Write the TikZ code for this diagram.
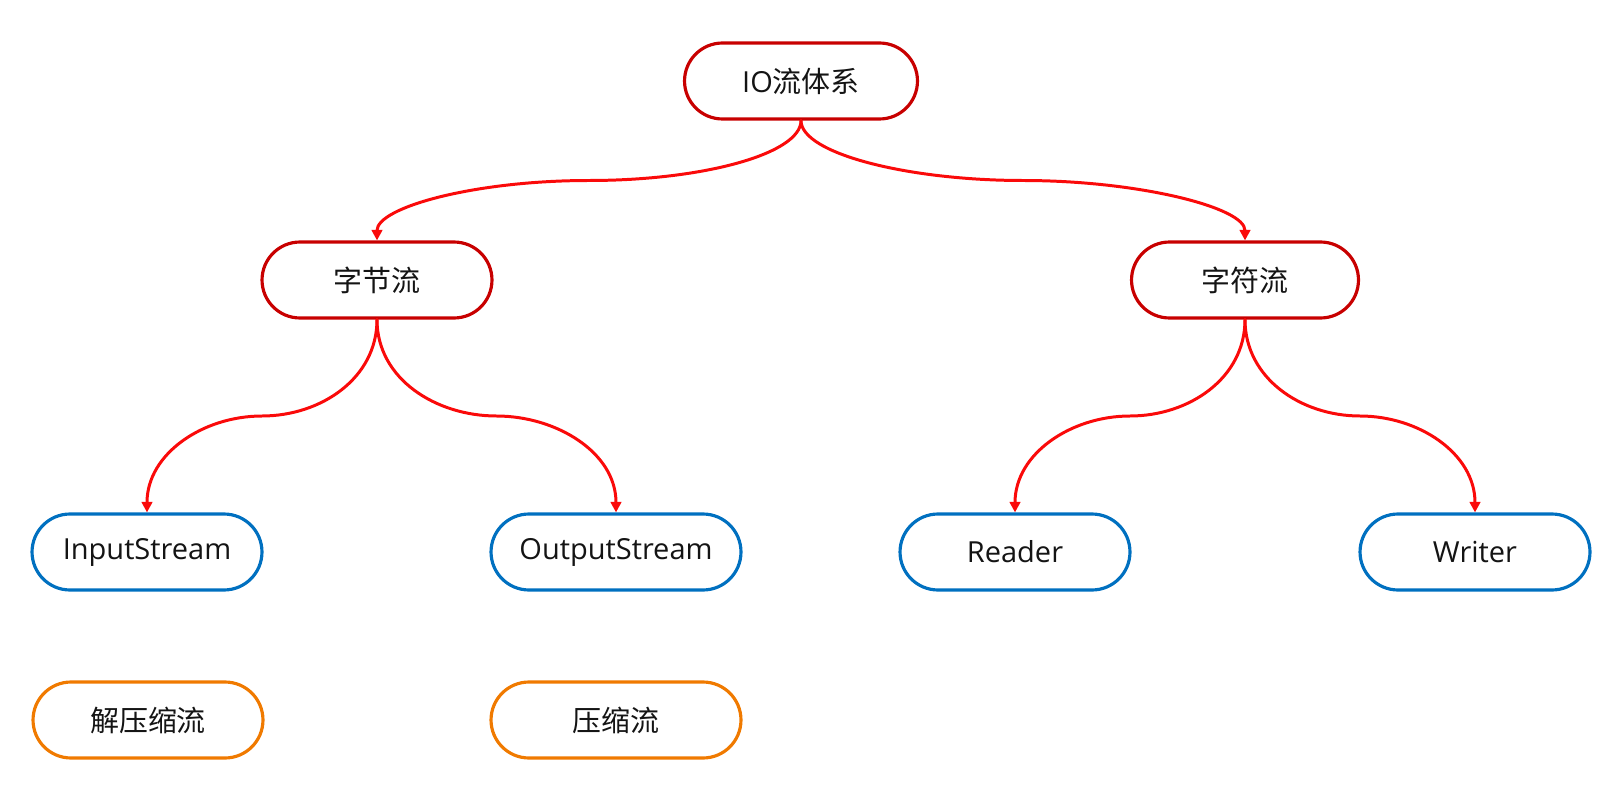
\documentclass[tikz,border=0pt]{standalone}
\usepackage{fontspec}
\setmainfont{Open Sans}
\newfontfamily\cjk{Noto Sans CJK SC}
\usetikzlibrary{calc,arrows.meta}

\definecolor{rootred}{RGB}{200,0,0}
\definecolor{linkred}{RGB}{250,10,10}
\definecolor{streamblue}{RGB}{0,112,192}
\definecolor{ziporange}{RGB}{240,122,0}

\begin{document}
\begin{tikzpicture}[
		x=0.02cm, y=-0.02cm,
		line join=round,
		line cap=round,
		>={Triangle[length=6pt,width=6pt]},
		box/.style={draw, rectangle, rounded corners=0.76cm, line width=1.8pt,
			minimum width=4.6cm, minimum height=1.52cm, fill=white, text=black!92,
			font=\fontsize{16.5}{20}\selectfont},
		redbox/.style={box, draw=rootred},
		bluebox/.style={box, draw=streamblue},
		orangebox/.style={box, draw=ziporange},
		link/.style={->, draw=linkred, line width=1.7pt},
		flat/.style={out distance=0.66cm, in distance=2.3cm}
	]
	
	% Canvas
	\useasboundingbox (0,0) rectangle (1619,804);
	
	% Rows
	\def\rA{81}
	\def\rB{280}
	\def\rC{552}
	\def\rD{720}
	
	% Root and stream kinds
	\node[redbox, minimum width=4.66cm] (io) at (801,\rA) {IO{\cjk 流体系}};
	\node[redbox] (bytes) at (377,\rB) {\cjk 字节流};
	\node[redbox, minimum width=4.54cm] (chars) at (1245,\rB) {\cjk 字符流};
	
	% Base classes
	\node[bluebox] (in) at (147,\rC) {InputStream};
	\node[bluebox, minimum width=5cm] (out) at (616,\rC) {OutputStream};
	\node[bluebox] (reader) at (1015,\rC) {Reader};
	\node[bluebox] (writer) at (1475,\rC) {Writer};
	
	% Compression streams
	\node[orangebox] (unzip) at (148,\rD) {\cjk 解压缩流};
	\node[orangebox, minimum width=5cm] (zip) at (616,\rD) {\cjk 压缩流};
	
	% Top links
	\draw[link] (io.south) to[out=-90,in=0,flat] ($(io.south)!0.5!(bytes.north)$)
		to[out=180,in=90,in distance=0.66cm,out distance=2.3cm] (bytes.north);
	\draw[link] (io.south) to[out=-90,in=180,flat] ($(io.south)!0.5!(chars.north)$)
		to[out=0,in=90,in distance=0.66cm,out distance=2.3cm] (chars.north);
	
	% Lower links
	\foreach \p/\c/\s in {bytes/in/0, bytes/out/180, chars/reader/0, chars/writer/180} {
		\draw[link] (\p.south) to[out=-90,in=\s] ($(\p.south)!0.5!(\c.north)$)
			to[out=\s+180,in=90] (\c.north);
	}
	
\end{tikzpicture}
\end{document}
